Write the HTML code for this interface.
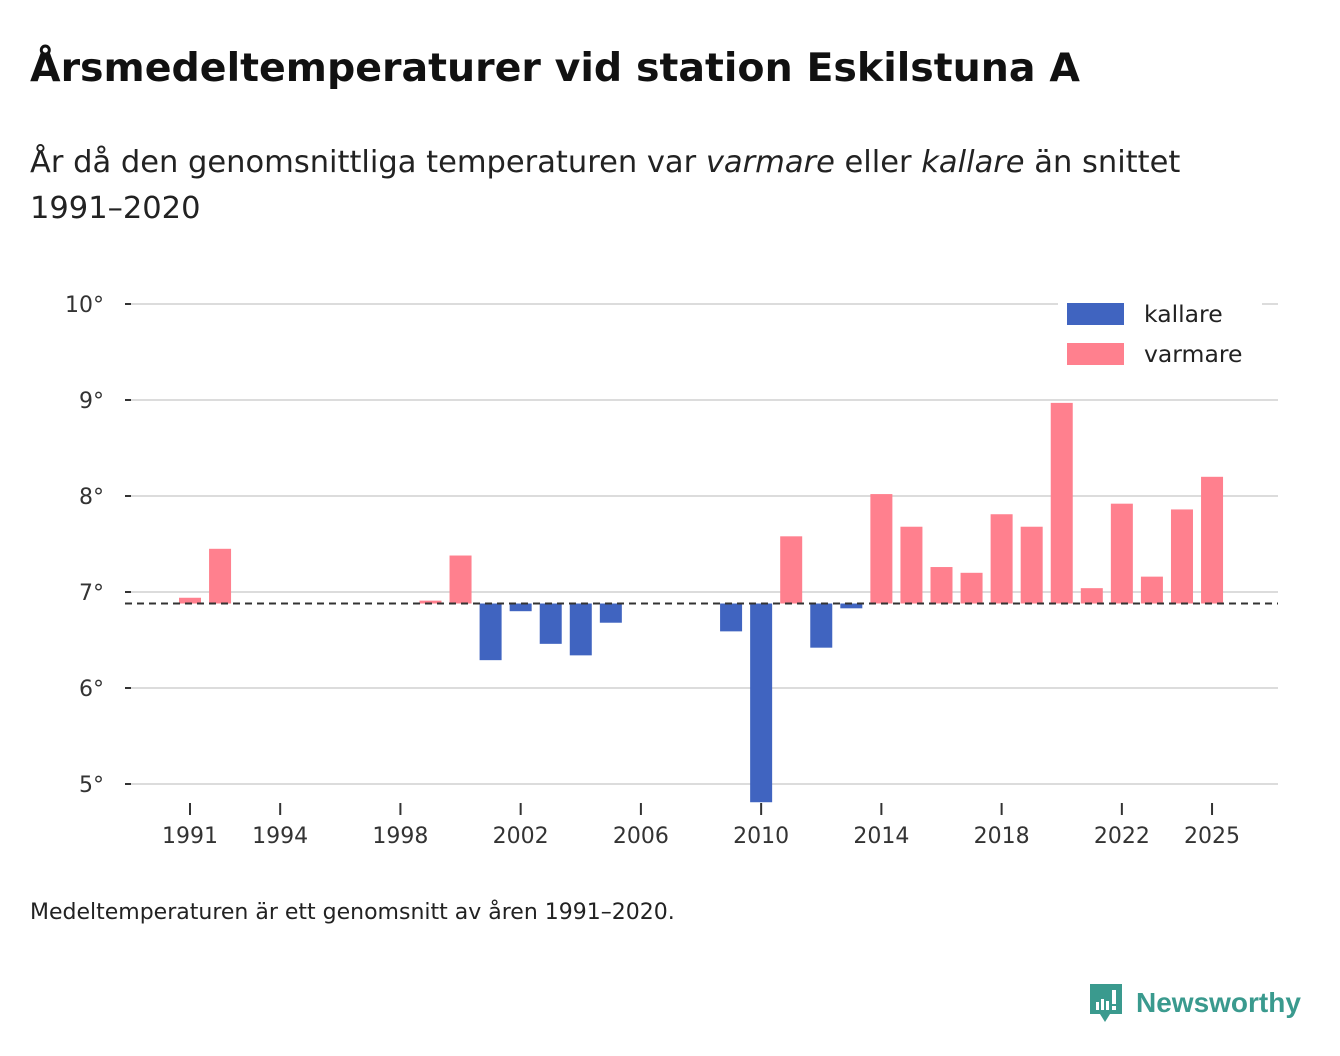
<!DOCTYPE html>
<html><head><meta charset="utf-8"><style>
body{margin:0;width:1340px;height:1056px;background:#fff;font-family:"DejaVu Sans","Liberation Sans",sans-serif;color:#111;overflow:hidden;position:relative}
h1{position:absolute;left:30px;top:45px;margin:0;font-size:39.5px;font-weight:bold;white-space:nowrap}
.sub{position:absolute;left:30px;top:140px;font-size:30.5px;line-height:46px;color:#222;width:1290px;white-space:nowrap}
.foot{position:absolute;left:30px;top:900px;font-size:22px;color:#222;white-space:nowrap}
.logo{position:absolute;left:1088px;top:982px;display:flex;align-items:center;color:#3a9a8e;font-weight:bold;font-size:28px;font-family:"Liberation Sans",sans-serif}
svg text{font-family:"DejaVu Sans","Liberation Sans",sans-serif}
</style></head><body>
<h1>Årsmedeltemperaturer vid station Eskilstuna A</h1>
<div class="sub">År då den genomsnittliga temperaturen var <i>varmare</i> eller <i>kallare</i> än snittet<br>1991–2020</div>
<svg id="chart" width="1340" height="1056" style="position:absolute;left:0;top:0"></svg>
<div class="foot">Medeltemperaturen är ett genomsnitt av åren 1991–2020.</div>
<div class="logo">
<svg width="36" height="42" viewBox="0 0 36 42"><path d="M2 2h32v30H22l-5 8-5-8H2z" fill="#3a9a8e"/><rect x="8" y="20" width="3" height="8" fill="#fff"/><rect x="13" y="17" width="3" height="11" fill="#fff"/><rect x="18" y="19" width="3" height="9" fill="#fff"/><rect x="24" y="8" width="4" height="14" fill="#fff"/><rect x="24" y="24" width="4" height="4" fill="#fff"/></svg>
<span style="margin-left:12px">Newsworthy</span></div>
<script>
const years=[1991,1992,1999,2000,2001,2002,2003,2004,2005,2009,2010,2011,2012,2013,2014,2015,2016,2017,2018,2019,2020,2021,2022,2023,2024,2025];
const temps=[6.94,7.45,6.91,7.38,6.29,6.80,6.46,6.34,6.68,6.59,4.81,7.58,6.42,6.83,8.02,7.68,7.26,7.20,7.81,7.68,8.97,7.04,7.92,7.16,7.86,8.20];
const baseline=6.88;
const yTicks=[5,6,7,8,9,10];
const xTicks=[1991,1994,1998,2002,2006,2010,2014,2018,2022,2025];
const NS="http://www.w3.org/2000/svg";
const svg=document.getElementById('chart');
const y=v=>592-(v-7)*96;
const x=yr=>190+(yr-1991)*30.06;
function mk(t,a){const e=document.createElementNS(NS,t);for(const k in a)e.setAttribute(k,a[k]);svg.appendChild(e);return e;}
yTicks.forEach(v=>{
 const l=mk('line',{x1:125,x2:1278,y1:y(v),y2:y(v),stroke:'#dcdcdc','stroke-width':2});
 
 
 const t=mk('text',{x:104,y:y(v)+8,'text-anchor':'end','font-size':22,fill:'#333'});t.textContent=v+'°';
 
 
});
yTicks.forEach(v=>{
 const l=mk('line',{x1:125,x2:131,y1:y(v),y2:y(v),stroke:'#333','stroke-width':2});
 
 
});
xTicks.forEach(v=>{
 const l=mk('line',{x1:x(v),x2:x(v),y1:803,y2:815,stroke:'#333','stroke-width':2});
 
 
 const t=mk('text',{x:x(v),y:843,'text-anchor':'middle','font-size':22,fill:'#333'});t.textContent=v;
 
 
});
years.forEach((yr,i)=>{
 const v=temps[i];const top=Math.min(y(v),y(baseline));const h=Math.abs(y(v)-y(baseline));
 const r=mk('rect',{x:x(yr)-11,y:top,width:22,height:h,fill:v>=baseline?'#ff808e':'#4064c0'});
 
 
});
const d=mk('line',{x1:125,x2:1278,y1:y(baseline),y2:y(baseline),stroke:'#333','stroke-width':2,'stroke-dasharray':'7,5'});


const bg=mk('rect',{x:1058,y:296,width:204,height:84,fill:'#fff'});


[['kallare','#4064c0',303],['varmare','#ff808e',343]].forEach(([n,c,yy])=>{
 const r=mk('rect',{x:1067,y:yy,width:57,height:22,fill:c});
 
 
 const t=mk('text',{x:1144,y:yy+19,'font-size':23.5,fill:'#222'});t.textContent=n;
 
 
});
</script>
</body></html>
